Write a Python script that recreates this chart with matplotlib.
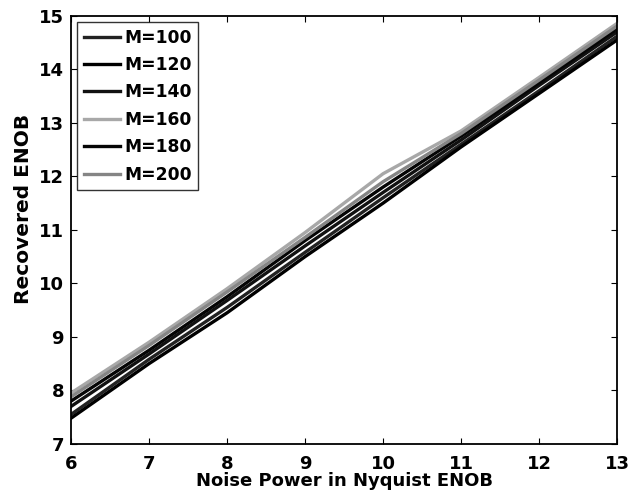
import matplotlib.pyplot as plt
import numpy as np

plt.rcParams["font.family"] = ["DejaVu Sans"]
plt.rcParams["font.weight"] = "bold"

noise_enob = [6, 7, 8, 9, 10, 11, 12, 13]
labels = ["M=100", "M=120", "M=140", "M=160", "M=180", "M=200"]
recovered = [
    [7.55, 8.58, 9.55, 10.58, 11.60, 12.60, 13.60, 14.62],
    [7.48, 8.50, 9.45, 10.50, 11.50, 12.55, 13.55, 14.55],
    [7.70, 8.68, 9.68, 10.70, 11.70, 12.68, 13.70, 14.70],
    [7.95, 8.90, 9.90, 10.95, 12.05, 12.85, 13.85, 14.86],
    [7.80, 8.75, 9.75, 10.80, 11.80, 12.75, 13.75, 14.76],
    [7.88, 8.84, 9.84, 10.86, 11.90, 12.80, 13.80, 14.81],
]
colors = ["#222222", "#000000", "#111111", "#a8a8a8", "#050505", "#858585"]

fig = plt.figure(figsize=(6.31, 4.96), dpi=100)
ax = fig.add_axes([0.1125, 0.105, 0.8655, 0.863])

for vals, lab, col in zip(recovered, labels, colors):
    ax.plot(noise_enob, vals, color=col, linewidth=2.4, label=lab)

ax.set_xlim(6, 13)
ax.set_ylim(7, 15)
ax.set_xticks(range(6, 14))
ax.set_yticks(range(7, 16))
ax.tick_params(direction="in", length=4, width=0.8, labelsize=13,
               top=True, right=True)
ax.tick_params(axis="x", pad=8)
ax.tick_params(axis="y", pad=5)
for lbl in ax.get_xticklabels() + ax.get_yticklabels():
    lbl.set_fontweight("bold")
for spine in ax.spines.values():
    spine.set_linewidth(1.3)

ax.set_xlabel("Noise Power in Nyquist ENOB", fontsize=13, fontweight="bold",
              labelpad=-1)
ax.set_ylabel("Recovered ENOB", fontsize=14.5, fontweight="bold", labelpad=4)
ax.yaxis.label.set_y(0.55)

leg = ax.legend(loc="upper left", fontsize=12.3, frameon=True, fancybox=False,
                handlelength=2.1, handletextpad=0.25, labelspacing=0.55,
                borderpad=0.4, borderaxespad=0.35)
leg.get_frame().set_edgecolor("black")
leg.get_frame().set_linewidth(1.0)
for t in leg.get_texts():
    t.set_fontweight("bold")

fig.savefig("out.png", dpi=100)
